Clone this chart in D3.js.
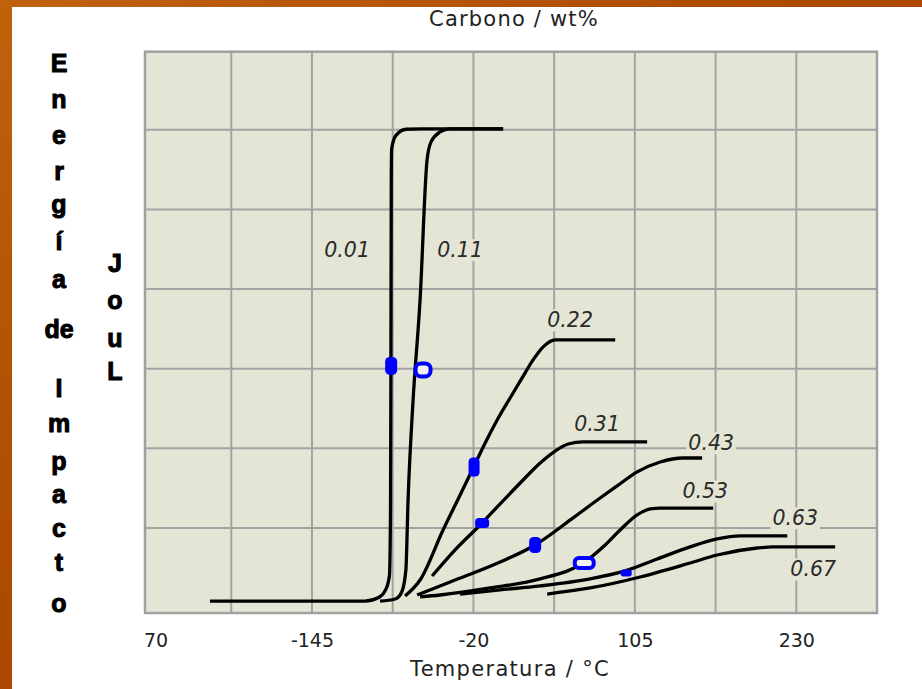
<!DOCTYPE html>
<html><head><meta charset="utf-8">
<script src="https://cdn.jsdelivr.net/npm/d3@7"></script>
<style>html,body{margin:0;padding:0;overflow:hidden;background:#fff}svg{display:block}</style>
</head><body>
<script>
// ---------------- DATA ----------------
const carbonLabels = ["0.01","0.11","0.22","0.31","0.43","0.53","0.63","0.67"];
const c001 = [[-224,4.1],[-104,4.1],[-93,6.5],[-87.5,12],[-85,20.5],[-84.2,60],[-83.9,150],[-83.6,270],[-83.3,288],[-80,296.5],[-72,300.3],[-60,300.6],[3,300.6]];
const c011 = [[-92.3,4.1],[-80.6,5.4],[-75.5,9.8],[-72.3,23.6],[-70.6,67.6],[-66.7,130.4],[-61.3,193.2],[-55.9,281.1],[-52.8,292.4],[-45.8,298.6],[-38,300.6],[3,300.6]];
const c022 = [[-72.9,7.3],[-61.3,17.3],[-43.5,48.7],[-30.3,70.7],[-20.2,87.7],[-10.9,103.4],[-1.6,117.8],[8.4,131.6],[17.7,144.2],[26.2,155.5],[34,163.7],[43.3,168.1],[89.8,168.1]];
const c031 = [[-52,19.8],[-34.2,36.2],[-13.3,53.1],[0.7,65.1],[16.2,78.2],[31.7,90.8],[43.3,98.3],[53.4,102.7],[65,104],[114.5,104]];
const c043 = [[-63.6,7.9],[-38,16.1],[0.7,28.6],[27.8,39.3],[57.2,56.3],[78.1,68.8],[91.3,76.4],[106.8,85.2],[124.6,91.4],[142.4,93.9],[157.1,93.9]];
const c053 = [[-61.3,6.7],[-45.8,7.9],[-7.1,12.3],[31.7,18],[65,28],[82,39.3],[93.6,48.7],[106.8,58.2],[116.9,61.9],[124.6,62.5],[165.7,62.5]];
const c063 = [[-30.3,8.5],[0.7,11.1],[31.7,13.6],[70.4,18],[97.5,23],[122.3,30.5],[147.8,38.1],[168.7,43.1],[186.6,45],[223,45]];
const c067 = [[37.1,8.5],[70.4,12.3],[109.1,19.2],[147.8,28],[168.7,33],[199.7,37.4],[212.1,38.1],[260.1,38.1]];
const seriesValues = [c001,c011,c022,c031,c043,c053,c063,c067];

// annotation positions (°C, J)
const labelT = [-117.8,-30.3,54.9,75.8,164.1,159.5,229.2,243.1];
const labelE = [224.6,224.6,180.6,115.3,103.4,73.2,56.3,24.2];

// measured test points
const markerT = [-83.7,-59,-19.5,-13.3,27.8,65.8,98.3];
const markerE = [151.7,149.2,88.3,53.1,39.3,28,21.7];
const markerKind = ["fill","ring","fill","fill","fill","ring","fill"];

// axis
const tickValues = [-270,-145,-20,105,230];
const tickLabels = ["70","-145","-20","105","230"];
const gridT = [-207.5,-145,-82.5,-20,42.5,105,167.5,230];
const gridE = [50,100,150,200,250,300];
const frameT = [-274.3,292.5];
const frameE = [-3.4,349];

const titleText = "Carbono / wt%";
const xTitle = "Temperatura / °C";
const yTitle1 = ["E","n","e","r","g","í","a","de","I","m","p","a","c","t","o"];
const yTitle2 = ["J","o","u","L"];

// ---------------- LAYOUT / STYLE ----------------
const W = 922, H = 689;
const plot = {left:145, right:877, top:51.7, bottom:613};
const y1Base = [72,108,144,180,213,250,288,338,397,432,470,503,537,571,612];
const y2Base = [272,309,347,380];
const markerSize = [[12,18],[19,17],[11,19],[14,10],[12,16],[23,14],[11,7]];

const svg = d3.select("body").append("svg").attr("width",W).attr("height",H);
const defs = svg.append("defs");
const g1 = defs.append("linearGradient").attr("id","org").attr("x1","0").attr("y1","0").attr("x2","1").attr("y2","1");
g1.append("stop").attr("offset","0").attr("stop-color","#c0620c");
g1.append("stop").attr("offset","0.35").attr("stop-color","#b04e02");
g1.append("stop").attr("offset","0.7").attr("stop-color","#a53f00");
g1.append("stop").attr("offset","1").attr("stop-color","#983600");

svg.append("rect").attr("width",W).attr("height",H).attr("fill","url(#org)");
svg.append("rect").attr("x",12).attr("y",7).attr("width",W-12).attr("height",H-7).attr("fill","#ffffff");

const x = d3.scaleLinear().domain(frameT).range([plot.left, plot.right]);
const y = d3.scaleLinear().domain(frameE).range([plot.bottom, plot.top]);

// plot background
svg.append("rect").attr("x",x(frameT[0])).attr("y",y(frameE[1]))
  .attr("width",x(frameT[1])-x(frameT[0])).attr("height",y(frameE[0])-y(frameE[1]))
  .attr("fill","#e5e5d5");

const grid = svg.append("g").attr("stroke","#a3a3a3").attr("stroke-width",2);
grid.selectAll("line.v").data(gridT).join("line").attr("class","v")
  .attr("x1",d=>x(d)).attr("x2",d=>x(d)).attr("y1",y(frameE[0])).attr("y2",y(frameE[1]));
grid.selectAll("line.h").data(gridE).join("line").attr("class","h")
  .attr("y1",d=>y(d)).attr("y2",d=>y(d)).attr("x1",x(frameT[0])).attr("x2",x(frameT[1]));
svg.append("rect").attr("x",x(frameT[0])).attr("y",y(frameE[1]))
  .attr("width",x(frameT[1])-x(frameT[0])).attr("height",y(frameE[0])-y(frameE[1]))
  .attr("fill","none").attr("stroke","#a0a0a0").attr("stroke-width",2.5);

// curves
const line = d3.line().x(d=>x(d[0])).y(d=>y(d[1])).curve(d3.curveMonotoneX);
svg.append("g").selectAll("path").data(seriesValues).join("path")
  .attr("d",line).attr("fill","none").attr("stroke","#000").attr("stroke-width",3.3)
  .attr("stroke-linecap","butt").attr("stroke-linejoin","round");

// labels with background
const lg = svg.append("g");
carbonLabels.forEach((lab,i)=>{
  const t = lg.append("text").attr("x",x(labelT[i])).attr("y",y(labelE[i])).attr("dy","0.36em")
    .attr("text-anchor","middle").attr("font-family","DejaVu Sans, sans-serif")
    .attr("font-style","italic").attr("font-size",20.5).attr("fill","#2a2a2a").text(lab);
  const b = t.node().getBBox();
  lg.insert("rect","text").attr("x",b.x-2).attr("y",b.y+1).attr("width",b.width+4).attr("height",b.height-2).attr("fill","#e5e5d5");
});

// markers
const mg = svg.append("g");
markerT.forEach((t,i)=>{
  const [w,h] = markerSize[i];
  if (markerKind[i]==="fill") {
    mg.append("rect").attr("x",x(t)-w/2).attr("y",y(markerE[i])-h/2).attr("width",w).attr("height",h)
      .attr("rx",Math.min(w,h)/2.6).attr("fill","#0000ff");
  } else {
    mg.append("rect").attr("x",x(t)-w/2+2).attr("y",y(markerE[i])-h/2+2).attr("width",w-4).attr("height",h-4)
      .attr("rx",(Math.min(w,h)-4)/2.4).attr("fill","#f2f2f2").attr("stroke","#0000ff").attr("stroke-width",4);
  }
});

// x axis
const xAxis = d3.axisBottom(x).tickValues(tickValues).tickFormat((d,i)=>tickLabels[i]).tickSize(0).tickPadding(21);
const ax = svg.append("g").attr("transform",`translate(0,${plot.bottom})`).call(xAxis);
ax.select(".domain").remove();
ax.selectAll("text").attr("font-family","DejaVu Sans, sans-serif").attr("font-size",19).attr("fill","#222")
  .attr("dx",(d,i)=> i===0 ? 5 : 0);

svg.append("text").attr("x",(plot.left+plot.right)/2 - 1).attr("y",676).attr("text-anchor","middle")
  .attr("font-family","DejaVu Sans, sans-serif").attr("font-size",21).attr("letter-spacing",1.3).attr("fill","#222").text(xTitle);
svg.append("text").attr("x",(plot.left+plot.right)/2 + 3).attr("y",26).attr("text-anchor","middle")
  .attr("font-family","DejaVu Sans, sans-serif").attr("font-size",21).attr("letter-spacing",1.2).attr("fill","#222").text(titleText);

// y title letters
const yl = svg.append("g").attr("font-family","Liberation Sans, Arial, sans-serif").attr("font-weight","bold")
  .attr("font-size",25).attr("fill","#000").attr("stroke","#000").attr("stroke-width",1).attr("text-anchor","middle");
yTitle1.forEach((c,i)=> yl.append("text").attr("x",59).attr("y",y1Base[i]).text(c));
yTitle2.forEach((c,i)=> yl.append("text").attr("x",115).attr("y",y2Base[i]).text(c));
</script>
</body></html>
